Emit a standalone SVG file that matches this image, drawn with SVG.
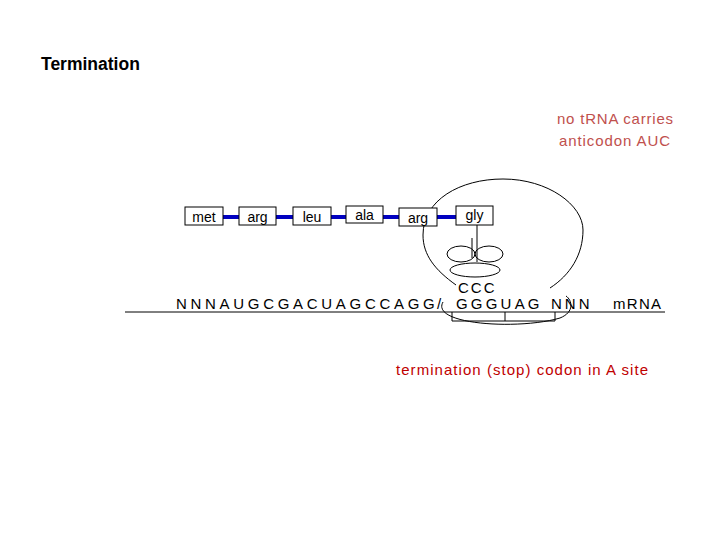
<svg xmlns="http://www.w3.org/2000/svg" width="720" height="540" viewBox="0 0 720 540">
<style>
text{font-family:"Liberation Sans",Arial,sans-serif}
.box{fill:#fff;stroke:#000;stroke-width:1}
.aa{font-size:14px;text-anchor:middle}
.seq{font-size:15px}
.ln{fill:none;stroke:#000;stroke-width:1}
</style>
<rect width="720" height="540" fill="#fff"/>
<text x="41" y="70" font-size="17.5" font-weight="bold">Termination</text>
<text x="557" y="124" font-size="15" fill="#c0504d" textLength="116">no tRNA carries</text>
<text x="559" y="146" font-size="15" fill="#c0504d" textLength="111">anticodon AUC</text>
<g id="connectors">
<path d="M223 217H239M276 217H293M331 217H346M383 217H399M437 217H456" stroke="#0000c0" stroke-width="4"/>
<path class="ln" d="M456 285 C435 270 423 255 423 235 C423 200 460 179 503 179 C548 179 583 205 583 230 C583 255 570 275 550 288"/>
<path class="ln" d="M443 302 C430 325 520 330 560 318 C575 312 572 300 566 296"/>
<path class="ln" d="M477 225V262M472 238V258"/>
<path class="ln" d="M125 312H665M452 312V321M505 312V321M555 312V321M452 321H555"/>
</g>
<g id="met"><rect class="box" x="185" y="207" width="38" height="18"/><text class="aa" x="204" y="222">met</text></g>
<g id="arg1"><rect class="box" x="239" y="207" width="37" height="18"/><text class="aa" x="257.5" y="222">arg</text></g>
<g id="leu"><rect class="box" x="293" y="207" width="38" height="18"/><text class="aa" x="312" y="222">leu</text></g>
<g id="ala"><rect class="box" x="346" y="206" width="37" height="17"/><text class="aa" x="364.5" y="220">ala</text></g>
<g id="arg2"><rect class="box" x="399" y="208" width="38" height="18"/><text class="aa" x="418" y="223">arg</text></g>
<g id="gly"><rect class="box" x="456" y="206" width="37" height="19"/><text class="aa" x="474.5" y="220">gly</text></g>
<g id="trna">
<ellipse class="ln" cx="461" cy="254" rx="14" ry="8"/>
<ellipse class="ln" cx="489" cy="254" rx="14" ry="8"/>
<ellipse class="ln" cx="475" cy="270" rx="25" ry="7"/>
<text class="seq" x="458" y="293" font-size="14" letter-spacing="2">CCC</text>
</g>
<g id="mrna">
<text class="seq" x="176" y="309" letter-spacing="3.7">NNNAUGCGACUAGCCAGG</text>
<text class="seq" x="437" y="309">/</text>
<text class="seq" x="456" y="309" letter-spacing="3.2">GGGUAG</text>
<text class="seq" x="551" y="309" letter-spacing="3">NNN</text>
<text x="613" y="309" font-size="15" textLength="48">mRNA</text>
</g>
<text x="396" y="375" font-size="15" fill="#c00000" textLength="252">termination (stop) codon in A site</text>
</svg>
